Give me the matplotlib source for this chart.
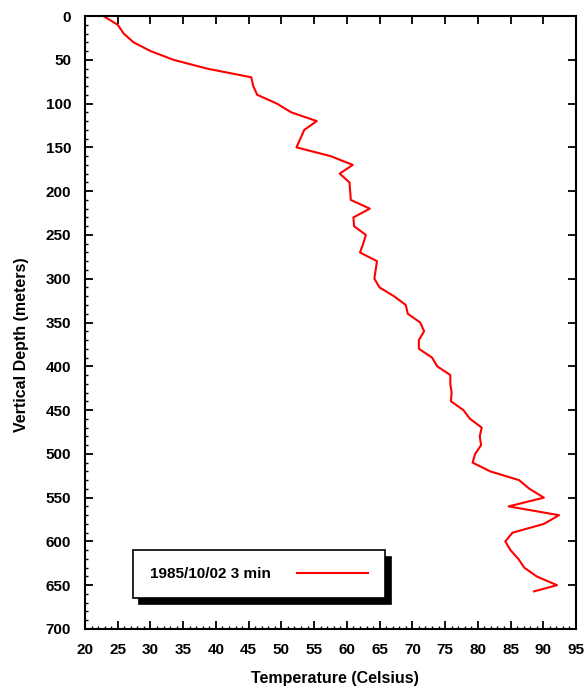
import matplotlib
matplotlib.use("Agg")
import matplotlib.pyplot as plt
from matplotlib.ticker import MultipleLocator

# temperature log, 1985/10/02 (3 min after shut-in)
depth = [0, 10, 20, 30, 40, 50, 60, 70, 80, 90,
         100, 110, 120, 130, 140, 150, 160, 170, 180, 190,
         200, 210, 220, 230, 240, 250, 260, 270, 280, 290,
         300, 310, 320, 330, 340, 350, 360, 370, 380, 390,
         400, 410, 420, 430, 440, 450, 460, 470, 480, 490,
         500, 510, 520, 530, 540, 550, 560, 570, 580, 590,
         600, 610, 620, 630, 640, 650, 657]
temp = [22.8, 25.0, 25.9, 27.4, 30.0, 33.5, 38.6, 45.4, 45.7, 46.3,
        49.3, 51.5, 55.4, 53.5, 52.9, 52.3, 57.5, 60.9, 58.9, 60.4,
        60.5, 60.6, 63.5, 61.0, 61.1, 62.9, 62.5, 62.0, 64.6, 64.4,
        64.2, 65.0, 67.2, 69.0, 69.3, 71.2, 71.8, 71.0, 71.0, 73.0,
        73.8, 75.8, 75.8, 76.0, 75.9, 77.8, 78.8, 80.6, 80.3, 80.5,
        79.6, 79.2, 81.9, 86.3, 87.9, 90.1, 84.7, 92.4, 90.1, 85.3,
        84.2, 85.0, 86.2, 87.1, 89.0, 92.1, 88.6]
series_label = "1985/10/02 3 min"

plt.rcParams['font.family'] = ['Liberation Sans', 'DejaVu Sans']
plt.rcParams['font.weight'] = 'bold'

fig = plt.figure(figsize=(5.87, 6.87), dpi=100)
ax = fig.add_axes([85 / 587, 1 - 629 / 687, 491 / 587, 613 / 687])

ax.plot(temp, depth, color='red', lw=1.5, label=series_label)

ax.set_xlim(20, 95)
ax.set_ylim(700, 0)
ax.xaxis.set_major_locator(MultipleLocator(5))
ax.xaxis.set_minor_locator(MultipleLocator(1))
ax.yaxis.set_major_locator(MultipleLocator(50))
ax.yaxis.set_minor_locator(MultipleLocator(10))

for s in ax.spines.values():
    s.set_linewidth(1.5)
ax.tick_params(which='major', direction='in', length=6, width=1.3,
               top=True, right=True, labelsize=11)
ax.tick_params(axis='x', which='major', pad=10)
ax.tick_params(axis='y', which='major', pad=10)
ax.tick_params(which='minor', direction='in', length=2.5, width=1,
               top=False, right=False)

ax.set_xlabel('Temperature (Celsius)', fontsize=11.5, fontweight='bold')
ax.set_ylabel('Vertical Depth (meters)', fontsize=11.5, fontweight='bold')
ax.xaxis.set_label_coords(0.51, -0.068)
ax.yaxis.set_label_coords(-0.115, 0.463)

leg = ax.legend(loc='lower left', bbox_to_anchor=(48 / 491, 31 / 613),
                borderaxespad=0, markerfirst=False, fancybox=False,
                edgecolor='black', framealpha=1, handlelength=4.6,
                handletextpad=1.75, borderpad=1.1, prop={'size': 11, 'weight': 'bold'},
                shadow={'color': 'black', 'alpha': 1, 'ox': 4.5, 'oy': -4.5})
leg.get_frame().set_linewidth(1.2)

fig.savefig('out.png', dpi=100)
